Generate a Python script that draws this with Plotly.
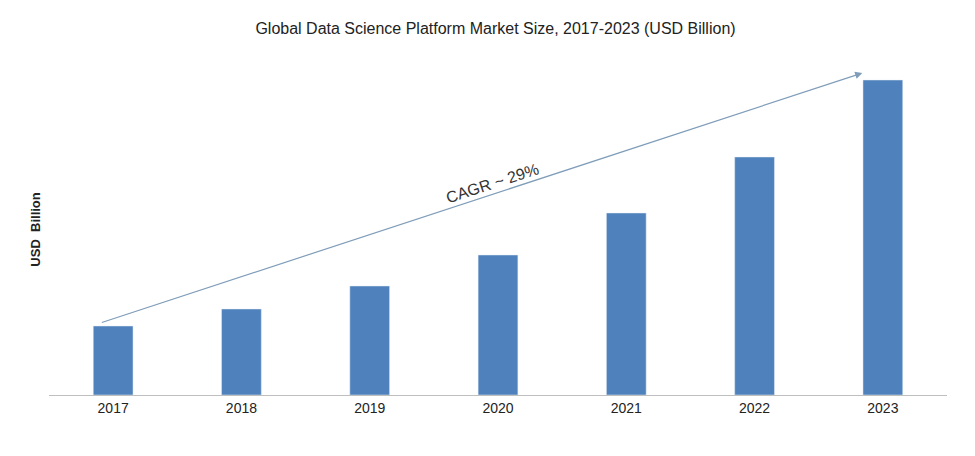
import plotly.graph_objects as go

years = ["2017", "2018", "2019", "2020", "2021", "2022", "2023"]
values = [69, 86, 109, 140, 182, 238, 315]
title = "Global Data Science Platform Market Size, 2017-2023 (USD Billion)"
y_title = "USD  Billion"
cagr_text = "CAGR ~ 29%"

fig = go.Figure(go.Bar(x=years, y=values, marker_color="#4F81BD", width=0.31))
fig.update_layout(
    width=975, height=456,
    margin=dict(l=41, r=36, t=57, b=69),
    paper_bgcolor="white", plot_bgcolor="white",
    font=dict(family="Liberation Sans, Arial", color="#222", size=14),
    title=dict(text=title, x=0.5, xanchor="center", y=0.955, yanchor="middle",
               font=dict(size=16, color="#222")),
    showlegend=False, bargap=0.7,
)
fig.update_xaxes(type="category", showline=True, linecolor="#bfbfbf", linewidth=1,
                 ticks="", tickfont=dict(size=14, color="#222"))
fig.update_yaxes(range=[0, 330], showticklabels=False, showgrid=False, zeroline=False)
fig.add_annotation(x=5.84, y=322, ax=-0.1, ay=72, xref="x", yref="y", axref="x", ayref="y",
                   showarrow=True, arrowhead=2, arrowsize=1.2, arrowwidth=1.2,
                   arrowcolor="#7f9db9", text="")
fig.add_annotation(x=2.95, y=212, xref="x", yref="y", text=cagr_text, showarrow=False,
                   textangle=-18, font=dict(size=16, color="#333"))
fig.add_annotation(x=-0.016, y=0.5, xref="paper", yref="paper", xanchor="center",
                   text="<b>" + y_title + "</b>", showarrow=False, textangle=-90,
                   font=dict(size=13, color="#222"))
fig.write_html("out.html")
